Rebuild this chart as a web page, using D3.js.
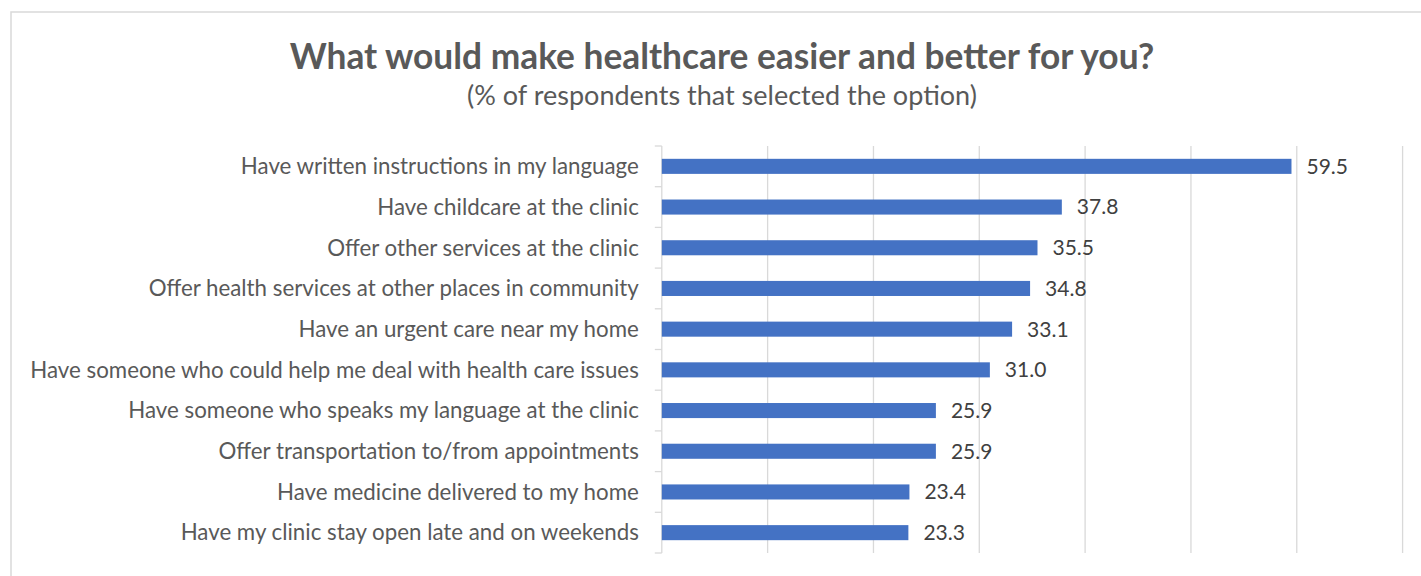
<!DOCTYPE html>
<html>
<head>
<meta charset="utf-8">
<script src="https://cdn.jsdelivr.net/npm/d3@7"></script>
<style>
  html, body { margin: 0; padding: 0; background: #fff; }
  svg { display: block; }
</style>
</head>
<body>
<svg id="chart" width="1421" height="576"></svg>
<script>
const categories = [
  "Have written instructions in my language",
  "Have childcare at the clinic",
  "Offer other services at the clinic",
  "Offer health services at other places in community",
  "Have an urgent care near my home",
  "Have someone who could help me deal with health care issues",
  "Have someone who speaks my language at the clinic",
  "Offer transportation to/from appointments",
  "Have medicine delivered to my home",
  "Have my clinic stay open late and on weekends"
];
const values = [59.5, 37.8, 35.5, 34.8, 33.1, 31.0, 25.9, 25.9, 23.4, 23.3];
const gridTicks = [10, 20, 30, 40, 50, 60, 70];
const titleText = "What would make healthcare easier and better for you?";
const subtitleText = "(% of respondents that selected the option)";

const svg = d3.select("#chart");
const FONT = "Lato, 'Open Sans', sans-serif";

// frame
svg.append("rect")
  .attr("x", 11).attr("y", 12)
  .attr("width", 1422).attr("height", 600)
  .attr("fill", "#fff")
  .attr("stroke", "#d9d9d9").attr("stroke-width", 1.5);

// titles
svg.append("text")
  .attr("x", 722).attr("y", 69)
  .attr("text-anchor", "middle")
  .attr("font-family", FONT).attr("font-weight", 700)
  .attr("font-size", 35.3).attr("fill", "#595959")
  .text(titleText);
svg.append("text")
  .attr("x", 722).attr("y", 105)
  .attr("text-anchor", "middle")
  .attr("font-family", FONT)
  .attr("font-size", 27).attr("fill", "#595959")
  .text(subtitleText);

const x = d3.scaleLinear().domain([0, 70]).range([661.8, 1402.6]);
const y = d3.scaleBand().domain(categories).range([146, 553]).padding(0);
const barFrac = 0.37;

// gridlines
svg.append("g").selectAll("line").data(gridTicks).join("line")
  .attr("x1", d => x(d)).attr("x2", d => x(d))
  .attr("y1", y.range()[0]).attr("y2", y.range()[1])
  .attr("stroke", "#d9d9d9").attr("stroke-width", 1.3);

// axis line + ticks at band boundaries
const boundaries = categories.map(c => y(c)).concat([y(categories[categories.length - 1]) + y.bandwidth()]);
svg.append("line")
  .attr("x1", x(0)).attr("x2", x(0))
  .attr("y1", y.range()[0]).attr("y2", y.range()[1])
  .attr("stroke", "#d9d9d9").attr("stroke-width", 1.3);
svg.append("g").selectAll("line").data(boundaries).join("line")
  .attr("x1", x(0) - 7).attr("x2", x(0))
  .attr("y1", d => d).attr("y2", d => d)
  .attr("stroke", "#d9d9d9").attr("stroke-width", 1.3);

// bars
svg.append("g").selectAll("rect").data(categories).join("rect")
  .attr("x", x(0))
  .attr("y", (c) => y(c) + y.bandwidth() * (1 - barFrac) / 2)
  .attr("width", (c, i) => x(values[i]) - x(0))
  .attr("height", y.bandwidth() * barFrac)
  .attr("fill", "#4472c4");

// category labels
svg.append("g").selectAll("text").data(categories).join("text")
  .attr("x", x(0) - 23)
  .attr("y", c => y(c) + y.bandwidth() / 2)
  .attr("dy", "0.35em")
  .attr("text-anchor", "end")
  .attr("font-family", FONT).attr("font-size", 22.3)
  .attr("fill", "#595959")
  .text(c => c);

// value labels
svg.append("g").selectAll("text").data(categories).join("text")
  .attr("x", (c, i) => x(values[i]) + 15)
  .attr("y", c => y(c) + y.bandwidth() / 2)
  .attr("dy", "0.35em")
  .attr("font-family", FONT).attr("font-size", 21)
  .attr("fill", "#404040")
  .text((c, i) => values[i].toFixed(1));
</script>
</body>
</html>
